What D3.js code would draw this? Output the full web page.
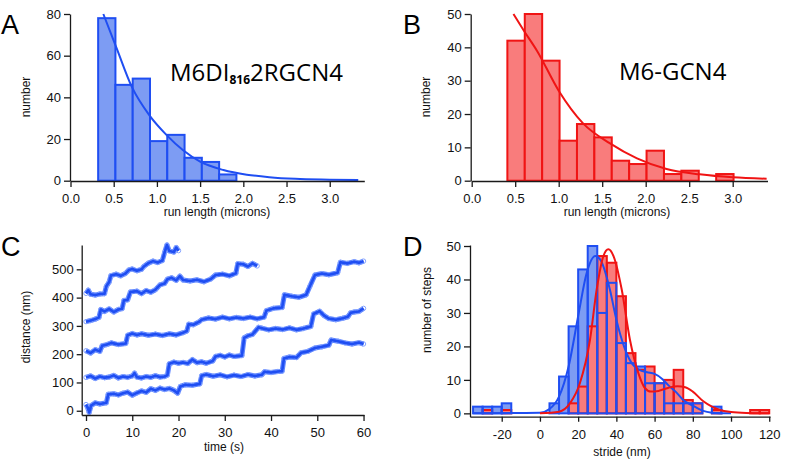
<!DOCTYPE html>
<html><head><meta charset="utf-8">
<script src="https://cdn.jsdelivr.net/npm/d3@7/dist/d3.min.js"></script>
<style>
body{margin:0;background:#fff}
svg text{font-family:"Liberation Sans",Arial,Helvetica,sans-serif}
</style>
</head><body>
<svg id="chart" width="800" height="459"></svg>
<script>
// ---------- DATA ----------
// Panel A: run length histogram M6DI816 2RGCN4 (bin left edges, microns; width 0.2)
const aBinLeft = [0.32,0.52,0.72,0.92,1.12,1.32,1.52,1.72];
const aCounts  = [78,46,49,19,22,11,9,3];
const aFit = [[0.38,80],[0.53,64],[0.71,45],[0.92,31],[1.11,22],[1.3,14.7],[1.5,9.1],[1.77,5.1],[2.04,2.9],[2.3,1.7],[2.6,0.9],[3.0,0.5],[3.33,0.3]];
// Panel B: run length histogram M6-GCN4
const bBinLeft = [0.41,0.61,0.81,1.01,1.21,1.41,1.61,1.81,2.01,2.21,2.41,2.61,2.81];
const bCounts  = [42,50,36,12,17,13,6,5,9,2,3,0,2];
const bFit = [[0.48,50],[0.6,45],[0.75,39],[1.0,27],[1.28,17.2],[1.59,11.2],[1.9,6.7],[2.24,3.5],[2.62,1.9],[3.0,1.0],[3.39,0.6]];
const runTicks = [0,0.5,1,1.5,2,2.5,3];
const binWidthRun = 0.2;
// Panel C: stepping traces (time s, distance nm)
const trace1 = [[0,22],[0.4,10],[0.7,-6],[1.1,18],[2,28],[3,24],[4.4,28],[4.8,58],[6,60],[7,56],[8,62],[9,66],[10,55],[11,63],[12,70],[13,65],[14,78],[15,72],[16,80],[17,75],[18,79],[19,72],[19.8,62],[20.4,86],[21.5,92],[23,90],[24.6,95],[25,124],[26,128],[27.5,122],[29,127],[30.5,120],[32,126],[33.5,121],[35,128],[36.5,123],[38,127],[38.6,138],[40,135],[41.5,139],[42.4,140],[42.8,185],[44,190],[45.5,188],[46.5,205],[48,210],[49.5,222],[51,226],[52.5,232],[53,250],[54.5,246],[56,240],[57.5,236],[59,241],[60,236]];
const trace2 = [[0,118],[1,123],[2,114],[3,121],[4,117],[5,119],[6,125],[7,116],[8,121],[9,118],[10,123],[10.5,133],[11,119],[12,116],[13,121],[14,118],[15,124],[16,119],[17,121],[17.6,126],[18,166],[19,172],[20,168],[21,171],[22,167],[23,181],[24,170],[25,173],[26,168],[27.4,176],[28,192],[29,196],[30,190],[31,197],[32,192],[33.7,195],[34.2,258],[35,265],[36,270],[37.3,295],[38,292],[39.5,286],[41,291],[42.5,287],[44,293],[45.5,286],[47,291],[48.6,298],[49.2,342],[50.5,352],[51.5,336],[52.5,326],[54,322],[55.5,327],[56.6,332],[57.2,346],[58,349],[59,351],[60,362]];
const trace3 = [[0,212],[1,204],[2,216],[3,210],[3.5,230],[4.5,234],[5.5,240],[7,234],[8.6,238],[9,267],[10,273],[11,268],[12,272],[13.5,267],[15,271],[16.5,266],[18,272],[19.5,268],[21,276],[21.8,282],[22.2,306],[23.2,304],[24.5,315],[25,322],[26.5,328],[28,324],[29.5,331],[31,325],[32.5,330],[34,326],[35.5,331],[37,325],[38.5,331],[39,354],[40.5,362],[42.4,365],[42.9,410],[44.5,405],[46,401],[47.6,410],[48.4,440],[49.5,480],[51,485],[52.5,481],[54.4,488],[55,525],[56.5,521],[58,527],[59,523],[60,529]];
const trace4 = [[0,315],[1,319],[2,324],[2.8,330],[3.2,358],[4,351],[5,360],[6,349],[7,358],[7.8,361],[8.2,390],[9,392],[9.6,420],[11,423],[12,414],[13,425],[14,419],[15,428],[16,445],[17,450],[17.6,465],[18.5,470],[19.5,461],[20.3,476],[21,462],[22.5,459],[24,463],[25.5,456],[27,466],[28,480],[29.5,483],[31,477],[32.4,486],[32.8,520],[34,518],[35,510],[36,521],[37,512]];
const trace5 = [[0,415],[0.5,426],[1,412],[2,409],[3,413],[4,414],[4.4,440],[5,455],[5.4,478],[6.5,483],[7.5,477],[8.5,485],[9.3,498],[10,501],[11,495],[12,500],[12.5,510],[13.5,522],[14.5,529],[15.5,524],[16.5,531],[17,560],[17.5,586],[18,565],[19,561],[19.5,577],[20,566]];
const traces = [trace1, trace2, trace3, trace4, trace5];
const timeTicks = [0,10,20,30,40,50,60];
const distTicks = [0,100,200,300,400,500];
// Panel D: stride histograms (bin left edges nm; width 5)
const dBinLeft = [-35,-30,-25,-20,-15,-10,-5,0,5,10,15,20,25,30,35,40,45,50,55,60,65,70,75,80,85,90,95,100,105,110,115];
const dBlueCounts = [2,2,2,3,0,0,0,0,3,11,26,43,50,30,39,21,15,14,9,9,3,3,3,3,0,2,0,0,0,0,0];
const dRedCounts  = [0,1,0,1,0,0,0,0,0,0,3,8,26,47,45,35,18,13,14,9,10,13,4,3,0,1,0,0,0,1,1];
const dBlueFit = [[-35,0],[0,0.2],[5,1.3],[10,5],[15,14],[20,29],[24.5,42],[29,47],[32,45.5],[36.6,37],[40,28],[44,20],[48,15],[52,13],[56,12.3],[60,11.8],[64,10.3],[67,8.5],[71,6.5],[75,4],[80,2.3],[85,0.8],[90,0.2],[100,0]];
const dRedFit = [[0,0],[10,0.5],[15.7,3],[20.9,9],[26.2,22],[29.7,37],[33.2,47],[35.8,49],[38.5,47],[42.8,37],[47.1,22],[51.5,12],[55,7.5],[58,6.5],[62,6.7],[67,7.6],[72,8.1],[76,7.8],[80,6.5],[85.5,3.6],[90,2],[94.2,1],[100,0.4],[108,0.1],[120,0]];
const strideTicks = [-20,0,20,40,60,80,100,120];
const stepTicks = [0,10,20,30,40,50];
const binWidthStride = 5;

// ---------- STYLE ----------
const BLUE = "#1f4ef2", BLUE_FILL = "#7d9cf3";
const RED = "#f01414", RED_FILL = "#f97c7c";
const AX = "#1a1a1a";
const svg = d3.select("#chart");

function styleAxis(g){
  g.select(".domain").attr("stroke",AX).attr("stroke-width",1.3);
  g.selectAll(".tick line").attr("stroke",AX).attr("stroke-width",1.3);
  g.selectAll(".tick text").attr("fill","#111").style("font-size","13px");
}
function axisTitle(x,y,txt,rot){
  svg.append("text").attr("x",x).attr("y",y).attr("text-anchor","middle")
    .attr("transform",rot?`rotate(-90,${x},${y})`:null)
    .style("font-size","12px").attr("fill","#111").text(txt);
}
function panelLetter(x,y,t){
  svg.append("text").attr("x",x).attr("y",y).style("font-size","27px").attr("fill","#000").text(t);
}
function fmt1(d){return d.toFixed(1);}

// ---------- PANEL A ----------
{
  const x = d3.scaleLinear().domain([0,3.4]).range([70.5,364.3]);
  const y = d3.scaleLinear().domain([0,80]).range([180.7,14]);
  const g = svg.append("g");
  g.selectAll("rect").data(aBinLeft.map((l,i)=>({l,c:aCounts[i]}))).join("rect")
    .attr("x",d=>x(d.l)).attr("width",d=>x(d.l+binWidthRun)-x(d.l))
    .attr("y",d=>y(d.c)).attr("height",d=>y(0)-y(d.c))
    .attr("fill",BLUE_FILL).attr("stroke",BLUE).attr("stroke-width",2);
  g.append("path").datum(aFit).attr("fill","none").attr("stroke",BLUE).attr("stroke-width",2)
    .attr("d",d3.line().x(d=>x(d[0])).y(d=>y(d[1])).curve(d3.curveMonotoneX));
  svg.append("g").attr("transform","translate(0,181)")
    .call(d3.axisBottom(x).tickValues(runTicks).tickFormat(fmt1).tickSize(6).tickSizeOuter(0).tickPadding(7)).call(styleAxis);
  svg.append("g").attr("transform","translate(70,0)")
    .call(d3.axisLeft(y).tickValues([0,20,40,60,80]).tickSize(6).tickSizeOuter(0).tickPadding(3)).call(styleAxis);
  axisTitle(217,216,"run length (microns)");
  axisTitle(30,97,"number",true);
  panelLetter(1,34,"A");
  const t = svg.append("text").attr("x",170).attr("y",81).style("font-family","'Open Sans',sans-serif").style("font-size","24px").attr("fill","#000");
  t.append("tspan").text("M6DI");
  t.append("tspan").attr("dy",3).style("font-size","12px").style("font-weight","bold").text("816");
  t.append("tspan").attr("dy",-3).text("2RGCN4");
}

// ---------- PANEL B ----------
{
  const x = d3.scaleLinear().domain([0,3.4]).range([471.7,767.5]);
  const y = d3.scaleLinear().domain([0,50]).range([180.7,14]);
  const g = svg.append("g");
  g.selectAll("rect").data(bBinLeft.map((l,i)=>({l,c:bCounts[i]})).filter(d=>d.c>0)).join("rect")
    .attr("x",d=>x(d.l)).attr("width",d=>x(d.l+binWidthRun)-x(d.l))
    .attr("y",d=>y(d.c)).attr("height",d=>y(0)-y(d.c))
    .attr("fill",RED_FILL).attr("stroke",RED).attr("stroke-width",2);
  g.append("path").datum(bFit).attr("fill","none").attr("stroke",RED).attr("stroke-width",2)
    .attr("d",d3.line().x(d=>x(d[0])).y(d=>y(d[1])).curve(d3.curveMonotoneX));
  svg.append("g").attr("transform","translate(0,181)")
    .call(d3.axisBottom(x).tickValues(runTicks).tickFormat(fmt1).tickSize(6).tickSizeOuter(0).tickPadding(7)).call(styleAxis);
  svg.append("g").attr("transform","translate(470.7,0)")
    .call(d3.axisLeft(y).tickValues([0,10,20,30,40,50]).tickSize(6).tickSizeOuter(0).tickPadding(3)).call(styleAxis);
  axisTitle(617,216,"run length (microns)");
  axisTitle(430,97,"number",true);
  panelLetter(403,34,"B");
  svg.append("text").attr("x",619).attr("y",80).style("font-family","'Open Sans',sans-serif").style("font-size","24px").attr("fill","#000").text("M6-GCN4");
}

// ---------- PANEL C ----------
{
  const x = d3.scaleLinear().domain([-0.93,60.1]).range([81.7,364]);
  const y = d3.scaleLinear().domain([-15,586]).range([415,245]);
  const g = svg.append("g");
  const line = d3.line().x(d=>x(d[0])).y(d=>y(d[1]));
  traces.forEach(tr=>{
    g.append("path").datum(tr).attr("fill","none").attr("stroke","#5f86ff").attr("stroke-width",5).attr("stroke-linejoin","round").attr("d",line);
  });
  traces.forEach(tr=>{
    g.append("g").selectAll("circle").data(tr).join("circle")
      .attr("cx",d=>x(d[0])).attr("cy",d=>y(d[1])).attr("r",2.2)
      .attr("fill","none").attr("stroke","#86a4ff").attr("stroke-width",1);
    g.append("path").datum(tr).attr("fill","none").attr("stroke",BLUE).attr("stroke-width",2.6).attr("stroke-linejoin","round").attr("d",line);
  });
  svg.append("g").attr("transform","translate(0,415)")
    .call(d3.axisBottom(x).tickValues(timeTicks).tickSize(6).tickSizeOuter(0).tickPadding(7)).call(styleAxis);
  svg.append("g").attr("transform","translate(81.7,0)")
    .call(d3.axisLeft(y).tickValues(distTicks).tickSize(5).tickSizeOuter(0).tickPadding(3)).call(styleAxis);
  axisTitle(224,451,"time (s)");
  axisTitle(30,327,"distance (nm)",true);
  panelLetter(1,256,"C");
}

// ---------- PANEL D ----------
{
  const x = d3.scaleLinear().domain([-36.6,120.4]).range([470,770]);
  const y = d3.scaleLinear().domain([-1,50.3]).range([416.7,245]);
  const g = svg.append("g");
  const blue = dBinLeft.map((l,i)=>({l,c:dBlueCounts[i]})).filter(d=>d.c>0);
  const red = dBinLeft.map((l,i)=>({l,c:dRedCounts[i]})).filter(d=>d.c>0);
  function bars(data,fill,stroke){
    g.append("g").selectAll("rect").data(data).join("rect")
      .attr("x",d=>x(d.l)).attr("width",d=>x(d.l+binWidthStride)-x(d.l))
      .attr("y",d=>y(d.c)).attr("height",d=>y(0)-y(d.c))
      .attr("fill",fill).attr("stroke",stroke).attr("stroke-width",stroke==="none"?0:2);
  }
  bars(blue,BLUE_FILL,"none");
  bars(red,RED_FILL,"none");
  bars(red,"none",RED);
  bars(blue,"none",BLUE);
  const line = d3.line().x(d=>x(d[0])).y(d=>y(d[1])).curve(d3.curveMonotoneX);
  g.append("path").datum(dBlueFit).attr("fill","none").attr("stroke",BLUE).attr("stroke-width",2).attr("d",line);
  g.append("path").datum(dRedFit).attr("fill","none").attr("stroke",RED).attr("stroke-width",2).attr("d",line);
  svg.append("g").attr("transform","translate(0,416.7)")
    .call(d3.axisBottom(x).tickValues(strideTicks).tickFormat(d=>String(d)).tickSize(5).tickSizeOuter(0).tickPadding(8)).call(styleAxis);
  svg.append("g").attr("transform","translate(470,0)")
    .call(d3.axisLeft(y).tickValues(stepTicks).tickSize(6).tickSizeOuter(0).tickPadding(3)).call(styleAxis);
  axisTitle(622,456,"stride (nm)");
  axisTitle(431,310,"number of steps",true);
  panelLetter(403,256,"D");
}
</script>
</body></html>
